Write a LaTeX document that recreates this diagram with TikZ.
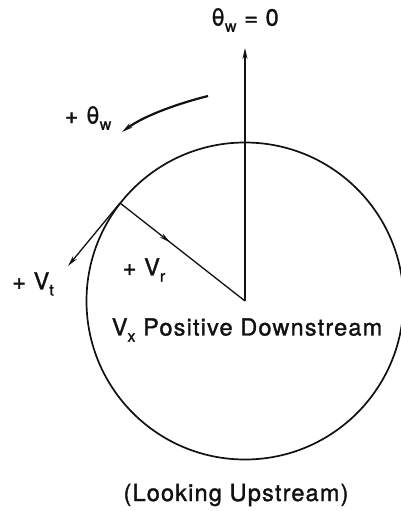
\documentclass[tikz,border=0pt]{standalone}
\usepackage{fontspec}
\setmainfont{TeX Gyre Heros}[LetterSpace=5, FakeBold=1.4]
\usetikzlibrary{arrows.meta, decorations.markings}
\definecolor{inkcol}{HTML}{111111}
\newcommand{\lowsub}[1]{\raisebox{-0.5ex}{\fontsize{16}{16}\selectfont #1}}

\begin{document}
\begin{tikzpicture}[x=1pt, y=1pt, >={Stealth[length=11pt, width=5pt]},
  lbl/.style={inkcol, font=\fontsize{23.5}{26}\selectfont, inner sep=0pt},
  ray/.style={inkcol, line width=1.3pt},
  midarrow/.style={postaction={decorate, decoration={markings,
    mark=at position 0.40 with {\arrow{Stealth[length=11pt, width=5pt]}}}}}]
\useasboundingbox (0,0) rectangle (400,-511);
\coordinate (ctr) at (245,-301);
\coordinate (rim) at (120,-203);
\coordinate (top) at (245,-48);
\coordinate (tip) at (68,-266);
\coordinate (swA) at (208,-96);
\coordinate (swB) at (122,-132);
% outline of the section
\draw[inkcol, line width=1.7pt] (ctr) circle (158.5);
\draw[->, ray] (ctr) -- (top);
\draw[ray, midarrow] (rim) -- (ctr);
\draw[->, ray] (rim) -- (tip);
\draw[->, inkcol, line width=2.2pt] (swA) .. controls (180,-103) and (145,-115) .. (swB);
% labels
\node[lbl] (zero) at (245,-20) {θ\lowsub{w} = 0};
\node[lbl] (ang) at (88,-118) {+ θ\lowsub{w}};
\node[lbl] (vr) at (144,-270) {+ V\lowsub{r}};
\node[lbl] (vt) at (33,-284) {+ V\lowsub{t}};
\node[lbl] (vx) at (247,-330) {V\lowsub{x} Positive Downstream};
\node[lbl] (look) at (236,-495) {(Looking Upstream)};
\end{tikzpicture}
\end{document}
